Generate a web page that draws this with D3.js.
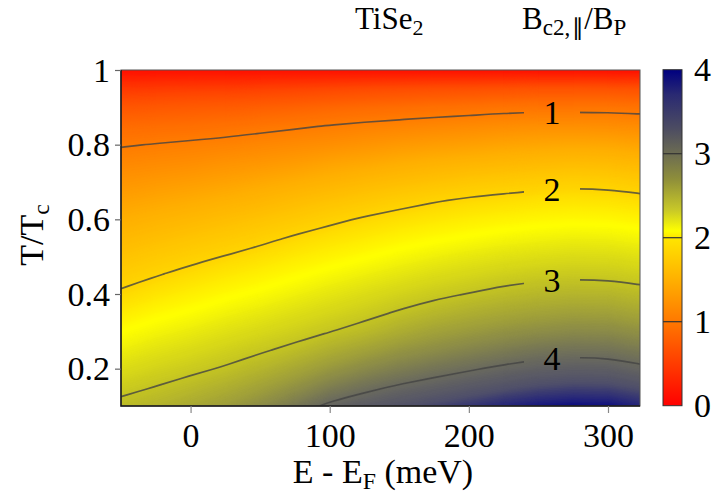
<!DOCTYPE html>
<html><head><meta charset="utf-8">
<script src="https://cdn.jsdelivr.net/npm/d3@7"></script>
<style>
body{margin:0;background:#fff}
svg{display:block}
text{font-family:"Liberation Serif","Times New Roman",serif;fill:#000}
</style>
</head><body>
<svg id="chart" width="722" height="497"></svg>
<script>
// ---------------- data ----------------
const energies = [-50,-25,0,25,50,75,100,125,150,175,200,225,250,275,300,325]; // meV
const temps = [0.10,0.15,0.20,0.25,0.30,0.35,0.40,0.45,0.50,0.55,0.60,0.65,0.70,0.75,0.80,0.85,0.90,0.95,1.00]; // T/Tc
// Bc2,|| / BP : one row per temperature (T = 0.10 ... 1.00), one value per energy
const bc2 = [
 [3.09,3.19,3.32,3.46,3.64,3.85,4.06,4.17,4.26,4.35,4.42,4.50,4.56,4.59,4.58,4.50],
 [2.91,3.01,3.12,3.25,3.41,3.59,3.79,3.93,4.04,4.12,4.20,4.27,4.33,4.36,4.35,4.28],
 [2.74,2.84,2.93,3.03,3.17,3.34,3.52,3.67,3.79,3.89,3.97,4.05,4.11,4.14,4.13,4.05],
 [2.56,2.67,2.76,2.86,2.96,3.08,3.25,3.40,3.54,3.64,3.73,3.81,3.88,3.91,3.90,3.82],
 [2.39,2.50,2.59,2.69,2.78,2.88,2.99,3.11,3.27,3.40,3.49,3.57,3.63,3.67,3.66,3.58],
 [2.21,2.33,2.42,2.52,2.61,2.71,2.81,2.91,3.03,3.15,3.25,3.33,3.39,3.43,3.42,3.34],
 [2.04,2.15,2.25,2.35,2.44,2.54,2.64,2.74,2.84,2.93,3.01,3.09,3.15,3.18,3.17,3.10],
 [1.90,1.99,2.08,2.18,2.27,2.37,2.47,2.56,2.65,2.74,2.81,2.88,2.93,2.95,2.94,2.89],
 [1.77,1.85,1.93,2.01,2.10,2.20,2.29,2.38,2.47,2.55,2.62,2.68,2.72,2.75,2.74,2.69],
 [1.64,1.71,1.78,1.85,1.93,2.03,2.12,2.20,2.29,2.36,2.42,2.48,2.52,2.55,2.54,2.49],
 [1.51,1.57,1.63,1.70,1.77,1.85,1.94,2.03,2.10,2.17,2.23,2.28,2.32,2.34,2.33,2.29],
 [1.38,1.43,1.48,1.54,1.60,1.68,1.76,1.83,1.91,1.98,2.04,2.08,2.12,2.14,2.13,2.08],
 [1.25,1.29,1.33,1.38,1.44,1.50,1.57,1.64,1.70,1.76,1.82,1.86,1.90,1.93,1.91,1.86],
 [1.12,1.15,1.18,1.23,1.27,1.32,1.39,1.44,1.50,1.55,1.59,1.63,1.66,1.68,1.67,1.63],
 [0.98,1.01,1.04,1.07,1.11,1.15,1.19,1.24,1.29,1.33,1.36,1.40,1.42,1.44,1.43,1.39],
 [0.82,0.84,0.86,0.89,0.93,0.97,1.01,1.05,1.08,1.11,1.14,1.17,1.19,1.19,1.18,1.16],
 [0.61,0.63,0.65,0.67,0.70,0.73,0.77,0.81,0.84,0.87,0.89,0.92,0.93,0.93,0.93,0.91],
 [0.34,0.35,0.37,0.38,0.40,0.42,0.45,0.48,0.50,0.52,0.53,0.55,0.57,0.57,0.56,0.55],
 [0.00,0.00,0.00,0.00,0.00,0.00,0.00,0.00,0.00,0.00,0.00,0.00,0.00,0.00,0.00,0.00]
];
const contourLevels = [1,2,3,4];
const xTicks = [0,100,200,300];
const yTicks = [0.2,0.4,0.6,0.8,1];
const barTicks = [0,1,2,3,4];
// colours of the map, against Bc2/BP
const fieldStopValues = [0,0.5,1.0,1.5,2.0,2.4,2.7,3.0,3.5,4.0,4.3,4.5,4.6];
const fieldStopColors = ["#ff1000","#ff4c00","#ff7c00","#ffae00","#ffd400","#ffff00","#e0e014","#c4c422","#9a9a3e","#6a6a5e","#50506a","#26267a","#0a0a80"];
// colours of the legend bar, against its scale 0..4
const barStopValues = [0,0.5,1.0,1.5,2.0,2.08,2.33,2.7,3.0,3.3,3.7,4.0];
const barStopColors = ["#ff0000","#ff3c00","#ff7800","#ffb000","#ffe600","#ffff00","#c8c828","#8e8e3a","#6c6c52","#4c4c62","#2a2a72","#000080"];

// ---------------- layout ----------------
const W = 722, H = 497;
const plot = {left:121, right:640, top:70, bottom:406};
const bar = {left:663, width:19, top:69.7, bottom:405.7};
const FS = 34;
const FONT = "'Liberation Serif','Times New Roman',serif";

const svg = d3.select("#chart");
const x = d3.scaleLinear().domain([-50, 323]).range([plot.left, plot.right]);
const y = d3.scaleLinear().domain([0.1, 1.0]).range([plot.bottom, plot.top]);

const nx = energies.length, ny = temps.length;
const gx = d3.scaleLinear().domain([0.5, nx - 0.5]).range([energies[0], energies[nx-1]]);
const gy = d3.scaleLinear().domain([0.5, ny - 0.5]).range([temps[0], temps[ny-1]]);
const proj = p => [x(gx(p[0])), y(gy(p[1]))];
const path = d3.geoPath(d3.geoTransform({
  point(a, b){ const q = proj([a,b]); this.stream.point(q[0], q[1]); }
}));

const values = bc2.flat();
const fieldColor = d3.scaleLinear().domain(fieldStopValues).range(fieldStopColors)
  .interpolate(d3.interpolateRgb).clamp(true);

const defs = svg.append("defs");
defs.append("clipPath").attr("id","plotclip").append("rect")
  .attr("x", plot.left).attr("y", plot.top)
  .attr("width", plot.right-plot.left).attr("height", plot.bottom-plot.top);

// filled map
const step = 0.02;
const fillLevels = d3.range(0, 4.7, step);
const fills = d3.contours().size([nx, ny]).thresholds(fillLevels)(values);
const gMap = svg.append("g").attr("clip-path","url(#plotclip)");
gMap.selectAll("path.fill").data(fills).join("path")
  .attr("class","fill")
  .attr("d", path)
  .attr("fill", d => fieldColor(d.value + step/2))
  .attr("stroke", d => fieldColor(d.value + step/2))
  .attr("stroke-width", 0.5);

// contour lines with label gaps
const lines = d3.contours().size([nx, ny]).thresholds(contourLevels)(values);
const labelX = 552;
function crossY(geom, px){
  let found = null;
  geom.coordinates.forEach(poly => poly.forEach(ring => {
    for (let k = 0; k < ring.length - 1; k++){
      const a = proj(ring[k]), b = proj(ring[k+1]);
      if (a[0] !== b[0] && (a[0]-px)*(b[0]-px) <= 0){
        const yy = a[1] + (b[1]-a[1])*(px-a[0])/(b[0]-a[0]);
        if (yy > plot.top + 1 && yy < plot.bottom - 1) found = yy;
      }
    }
  }));
  return found;
}
const labels = lines.map(d => ({value:d.value, y:crossY(d, labelX)})).filter(d => d.y !== null);

const mask = defs.append("mask").attr("id","gapmask").attr("maskUnits","userSpaceOnUse")
  .attr("x",0).attr("y",0).attr("width",W).attr("height",H);
mask.append("rect").attr("x",0).attr("y",0).attr("width",W).attr("height",H).attr("fill","#fff");
mask.selectAll("rect.gap").data(labels).join("rect").attr("class","gap")
  .attr("x", labelX - 28).attr("y", d => d.y - 19).attr("width", 56).attr("height", 38).attr("fill","#000");

// iso-lines: keep only the parts of each ring that are not on the grid border
const onBorder = p => p[0] <= 0 || p[0] >= nx || p[1] <= 0 || p[1] >= ny;
function isoRuns(geom){
  const runs = [];
  geom.coordinates.forEach(poly => poly.forEach(ring => {
    let pts = ring.slice(0, -1);
    const b = pts.findIndex(onBorder);
    if (b < 0){ runs.push({closed:true, pts}); return; }
    pts = pts.slice(b).concat(pts.slice(0, b));
    let cur = [];
    pts.forEach(p => {
      if (onBorder(p)){ if (cur.length > 1) runs.push({closed:false, pts:cur}); cur = []; }
      else cur.push(p);
    });
    if (cur.length > 1) runs.push({closed:false, pts:cur});
  }));
  return runs;
}
const openLine = d3.line().curve(d3.curveBasis);
const closedLine = d3.line().curve(d3.curveBasisClosed);
const linePath = d => isoRuns(d).map(r => (r.closed ? closedLine : openLine)(r.pts.map(proj))).join("");

const gLines = svg.append("g").attr("clip-path","url(#plotclip)");
gLines.append("g").attr("mask","url(#gapmask)")
  .selectAll("path").data(lines).join("path")
  .attr("d", linePath).attr("fill","none")
  .attr("stroke","#444").attr("stroke-opacity",0.8).attr("stroke-width",1.7);

svg.append("g").selectAll("text").data(labels).join("text")
  .attr("x", labelX).attr("y", d => d.y)
  .attr("text-anchor","middle").attr("dominant-baseline","central")
  .style("font-family", FONT).attr("font-size", FS).text(d => d.value);

// frame
svg.append("rect").attr("x",plot.left).attr("y",plot.top)
  .attr("width",plot.right-plot.left).attr("height",plot.bottom-plot.top)
  .attr("fill","none").attr("stroke","#555").attr("stroke-width",1);
svg.append("path").attr("d",`M${plot.left},${plot.top}V${plot.bottom}H${plot.right}`)
  .attr("fill","none").attr("stroke","#1a1a1a").attr("stroke-width",1.5);

// axes
const yAxis = d3.axisLeft(y).tickValues(yTicks).tickSize(6).tickPadding(5)
  .tickFormat(d => d === 1 ? "1" : d3.format(".1f")(d));
const gy_ = svg.append("g").attr("transform",`translate(${plot.left},0)`).call(yAxis);
gy_.attr("font-family", FONT);
gy_.select(".domain").remove();
gy_.selectAll("line").attr("stroke","#666").attr("stroke-width",1.2);
gy_.selectAll("text").attr("font-size",FS).style("font-family",FONT).attr("dy","0.33em").attr("fill","#000");

const xAxis = d3.axisBottom(x).tickValues(xTicks).tickSize(7).tickPadding(10);
const gx_ = svg.append("g").attr("transform",`translate(0,${plot.bottom})`).call(xAxis);
gx_.attr("font-family", FONT);
gx_.select(".domain").remove();
gx_.selectAll("line").attr("stroke","#888").attr("stroke-width",1.2);
gx_.selectAll("text").attr("font-size",FS).style("font-family",FONT).attr("fill","#000");

// axis titles
const xt = svg.append("text").attr("x",383).attr("y",483).attr("text-anchor","middle")
  .style("font-family",FONT).attr("font-size",FS);
xt.append("tspan").text("E - E");
xt.append("tspan").attr("font-size",FS*0.7).attr("dy",6).text("F");
xt.append("tspan").attr("dy",-6).text(" (meV)");

const yt = svg.append("text").attr("transform","translate(43,235) rotate(-90)").attr("text-anchor","middle")
  .style("font-family",FONT).attr("font-size",FS);
yt.append("tspan").text("T/T");
yt.append("tspan").attr("font-size",FS*0.7).attr("dy",6).text("c");

// title
const tt = svg.append("text").attr("x",355).attr("y",29).style("font-family",FONT).attr("font-size",31);
tt.append("tspan").text("TiSe");
tt.append("tspan").attr("font-size",22).attr("dy",6).text("2");

// colour bar
const barGrad = defs.append("linearGradient").attr("id","bargrad")
  .attr("x1","0").attr("y1","1").attr("x2","0").attr("y2","0");
barGrad.selectAll("stop").data(barStopValues).join("stop")
  .attr("offset", d => d/4).attr("stop-color", (d,i) => barStopColors[i]);
const by = d3.scaleLinear().domain([0,4]).range([bar.bottom, bar.top]);
svg.append("rect").attr("x",bar.left).attr("y",bar.top).attr("width",bar.width)
  .attr("height",bar.bottom-bar.top).attr("fill","url(#bargrad)")
  .attr("stroke","#333").attr("stroke-width",1);
svg.append("g").selectAll("line").data(barTicks.filter(d => d>0 && d<4)).join("line")
  .attr("x1",bar.left).attr("x2",bar.left+bar.width)
  .attr("y1",d=>by(d)).attr("y2",d=>by(d)).attr("stroke","#333").attr("stroke-width",1.2);
svg.append("g").selectAll("text").data(barTicks).join("text")
  .attr("x",694).attr("y",d=>by(d)).attr("dy","0.33em").style("font-family",FONT).attr("font-size",FS).text(d=>d);

const bt = svg.append("text").attr("x",522).attr("y",29).style("font-family",FONT).attr("font-size",31);
bt.append("tspan").text("B");
bt.append("tspan").attr("font-size",23).attr("dy",6).text("c2,");
bt.append("tspan").attr("font-size",23).attr("dx",2).text("\u2225");
bt.append("tspan").attr("dy",-6).text("/B");
bt.append("tspan").attr("font-size",23).attr("dy",6).text("P");
</script>
</body></html>
